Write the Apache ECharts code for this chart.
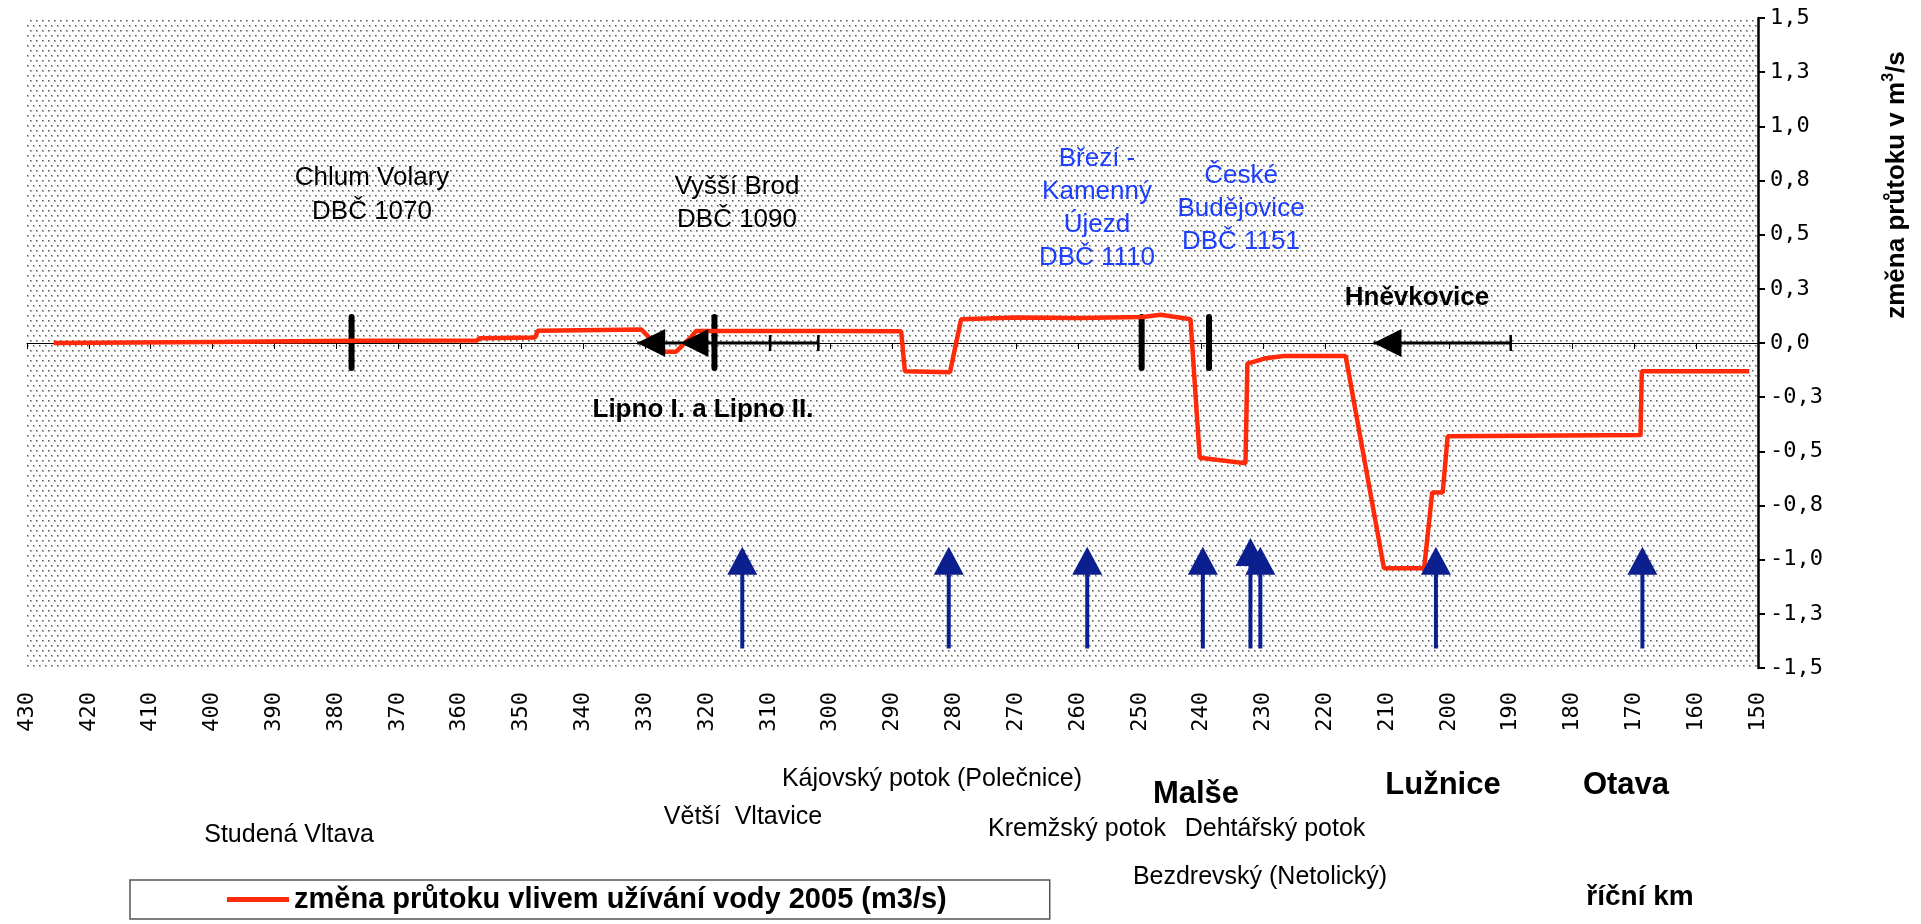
<!DOCTYPE html>
<html>
<head>
<meta charset="utf-8">
<script src="https://cdn.jsdelivr.net/npm/echarts@6/dist/echarts.min.js"></script>
<style>
  html, body { margin: 0; padding: 0; background: #fff; }
</style>
</head>
<body>
<div id="main" style="width: 1921px; height: 924px"></div>
<script>
// river km (x) and flow change in m3/s (y)
const redKm = [425.7, 400, 377.5, 357.2, 356.8, 347.8, 347.4, 337, 330.6, 329.2, 327.5, 325, 322.5, 321.8, 300, 288.6, 288.0, 280.7, 278.9, 270, 260, 249.5, 246.6, 241.8, 240.3, 232.9, 232.6, 230.8, 229.6, 226.7, 216.7, 210.5, 204.0, 202.7, 201.0, 200.2, 169.0, 168.8, 151.4]
const redValue = [0.0, 0.005, 0.01, 0.012, 0.022, 0.025, 0.057, 0.06, 0.062, 0.02, -0.04, -0.04, 0.03, 0.055, 0.055, 0.054, -0.13, -0.135, 0.11, 0.118, 0.115, 0.12, 0.13, 0.11, -0.53, -0.555, -0.095, -0.08, -0.07, -0.06, -0.06, -1.04, -1.04, -0.69, -0.69, -0.43, -0.425, -0.13, -0.13]

// tributary inflows (blue arrows)
const tributaryKm = [314.3, 280.9, 258.5, 239.8, 232.1, 230.5, 202.1, 168.7]
const tributaryTip = [-0.94, -0.94, -0.94, -0.94, -0.9, -0.94, -0.94, -0.94]
const tributaryFoot = -1.41

// gauging stations (black bars)
const gaugeKm = [377.5, 318.8, 249.7, 238.8]
const gaugeSpan = [0.12, -0.115]

// reservoirs (black arrows on the zero line)
const damTipKm = [331.3, 324.3, 212.2]
const damLines = [[331.3, 302.0], [212.2, 190.0]]
const damTickKm = [309.8, 302.0, 190.0]

const xMin = 150
const xMax = 430
const yMin = -1.5
const yMax = 1.5

const mono = '"DejaVu Sans Mono", monospace'
const sans = '"Liberation Sans", Arial, sans-serif'
const navy = '#0b1f8e'
const blue = '#1f3fff'
const red = '#ff2a0a'

// dotted background
const makePattern = () => {
  const c = document.createElement('canvas')
  c.width = 6
  c.height = 10
  const ctx = c.getContext('2d')
  ctx.fillStyle = '#fff'
  ctx.fillRect(0, 0, 6, 10)
  ctx.fillStyle = '#b4b4b4'
  ctx.fillRect(0, 0, 2, 2)
  ctx.fillRect(3, 5, 2, 2)
  ctx.fillStyle = '#555'
  ctx.fillRect(0, 0, 1, 1)
  ctx.fillRect(3, 5, 1, 1)
  return c
}

const fmtY = (v) => v.toFixed(1).replace('.', ',')

const txt = (text, x, y, opts) => {
  opts = opts || {}
  return {
    type: 'text',
    x: x,
    y: y,
    rotation: opts.rotation || 0,
    z: 50,
    style: {
      text: text,
      fontSize: opts.size || 25,
      fontWeight: opts.bold ? 'bold' : 'normal',
      fontFamily: sans,
      fill: opts.color || '#000',
      align: 'center',
      verticalAlign: 'middle',
      lineHeight: opts.lh || 33,
      rich: opts.rich
    }
  }
}

var chart = echarts.init(document.getElementById('main'))
var option

option = {
  animation: false,
  backgroundColor: '#fff',
  grid: {
    left: 27,
    right: 163,
    top: 18,
    bottom: 256,
    show: true,
    borderWidth: 0,
    backgroundColor: { image: makePattern(), repeat: 'repeat' }
  },
  legend: {
    left: 130,
    top: 880,
    padding: [5, 103, 5, 97],
    borderColor: '#555',
    borderWidth: 1.5,
    backgroundColor: '#fff',
    itemWidth: 62,
    itemHeight: 5,
    textStyle: { fontFamily: sans, fontWeight: 'bold', fontSize: 29, color: '#000' },
    data: [{ name: 'změna průtoku vlivem užívání vody 2005 (m3/s)', icon: 'rect' }]
  },
  xAxis: [
    {
      type: 'value',
      min: xMin,
      max: xMax,
      interval: 10,
      inverse: true,
      position: 'bottom',
      axisLine: { show: false, onZero: false },
      axisTick: { show: false },
      splitLine: { show: false },
      axisLabel: {
        rotate: 90,
        margin: 24,
        fontFamily: mono,
        fontSize: 22,
        color: '#000'
      }
    },
    {
      type: 'value',
      min: xMin,
      max: xMax,
      interval: 10,
      inverse: true,
      position: 'top',
      axisLine: { show: true, onZero: true, lineStyle: { color: '#000', width: 1 } },
      axisTick: { show: true, inside: true, length: 6, lineStyle: { color: '#000', width: 1 } },
      axisLabel: { show: false },
      splitLine: { show: false }
    }
  ],
  yAxis: {
    type: 'value',
    position: 'right',
    min: yMin,
    max: yMax,
    interval: 0.25,
    axisLine: { show: true, onZero: false, lineStyle: { color: '#000', width: 2.5 } },
    axisTick: { show: true, length: 7, lineStyle: { color: '#000', width: 2 } },
    splitLine: { show: false },
    axisLabel: {
      margin: 12,
      fontFamily: mono,
      fontSize: 22,
      color: '#000',
      formatter: fmtY
    }
  },
  series: [
    {
      name: 'gauges',
      type: 'custom',
      xAxisIndex: 0,
      z: 3,
      data: gaugeKm.map((k) => [k, gaugeSpan[0], gaugeSpan[1]]),
      renderItem: (params, api) => {
        const a = api.coord([api.value(0), api.value(1)])
        const b = api.coord([api.value(0), api.value(2)])
        return {
          type: 'line',
          shape: { x1: a[0], y1: a[1], x2: b[0], y2: b[1] },
          style: { stroke: '#000', lineWidth: 6, lineCap: 'round' }
        }
      }
    },
    {
      name: 'damLines',
      type: 'custom',
      xAxisIndex: 0,
      z: 3,
      data: damLines.map((d) => [d[0], d[1]]),
      renderItem: (params, api) => {
        const a = api.coord([api.value(0), 0])
        const b = api.coord([api.value(1), 0])
        return {
          type: 'line',
          shape: { x1: a[0], y1: a[1], x2: b[0], y2: b[1] },
          style: { stroke: '#000', lineWidth: 3 }
        }
      }
    },
    {
      name: 'damTicks',
      type: 'custom',
      xAxisIndex: 0,
      z: 3,
      data: damTickKm.map((k) => [k]),
      renderItem: (params, api) => {
        const a = api.coord([api.value(0), 0])
        return {
          type: 'line',
          shape: { x1: a[0], y1: a[1] - 8, x2: a[0], y2: a[1] + 8 },
          style: { stroke: '#000', lineWidth: 2.5 }
        }
      }
    },
    {
      name: 'damTips',
      type: 'custom',
      xAxisIndex: 0,
      z: 6,
      data: damTipKm.map((k) => [k]),
      renderItem: (params, api) => {
        const a = api.coord([api.value(0), 0])
        return {
          type: 'polygon',
          shape: { points: [[a[0], a[1]], [a[0] + 28, a[1] - 14], [a[0] + 28, a[1] + 14]] },
          style: { fill: '#000' }
        }
      }
    },
    {
      name: 'změna průtoku vlivem užívání vody 2005 (m3/s)',
      type: 'line',
      xAxisIndex: 0,
      z: 5,
      showSymbol: false,
      symbol: 'none',
      color: red,
      lineStyle: { color: red, width: 4.5 },
      data: redKm.map((k, i) => [k, redValue[i]])
    },
    {
      name: 'tributaries',
      type: 'custom',
      xAxisIndex: 0,
      z: 7,
      data: tributaryKm.map((k, i) => [k, tributaryTip[i], tributaryFoot]),
      renderItem: (params, api) => {
        const p = api.coord([api.value(0), api.value(1)])
        const b = api.coord([api.value(0), api.value(2)])
        const head = 28
        const w = 15
        return {
          type: 'group',
          children: [
            {
              type: 'line',
              shape: { x1: p[0], y1: p[1] + head - 2, x2: b[0], y2: b[1] },
              style: { stroke: navy, lineWidth: 4 }
            },
            {
              type: 'polygon',
              shape: { points: [[p[0], p[1]], [p[0] - w, p[1] + head], [p[0] + w, p[1] + head]] },
              style: { fill: navy }
            }
          ]
        }
      }
    }
  ],
  graphic: [
    txt('Chlum Volary\nDBČ 1070', 372, 195, { lh: 34, size: 26 }),
    txt('Vyšší Brod\nDBČ 1090', 737, 203, { lh: 33, size: 26 }),
    txt('Březí -\nKamenný\nÚjezd\nDBČ 1110', 1097, 208, { color: blue, size: 26 }),
    txt('České\nBudějovice\nDBČ 1151', 1241, 209, { color: blue, size: 26 }),
    txt('Hněvkovice', 1417, 298, { bold: true, size: 26 }),
    txt('Lipno I. a Lipno II.', 703, 410, { bold: true, size: 26 }),
    txt('Kájovský potok (Polečnice)', 932, 779),
    txt('Malše', 1196, 794, { bold: true, size: 31 }),
    txt('Lužnice', 1443, 785, { bold: true, size: 31 }),
    txt('Otava', 1626, 785, { bold: true, size: 31 }),
    txt('Větší  Vltavice', 743, 817),
    txt('Studená Vltava', 289, 835),
    txt('Kremžský potok', 1077, 829),
    txt('Dehtářský potok', 1275, 829),
    txt('Bezdrevský (Netolický)', 1260, 877),
    txt('říční km', 1640, 897, { bold: true, size: 28 }),
    txt('změna průtoku v m{sup|3}/s', 1897, 185, {
      bold: true,
      size: 26,
      rotation: Math.PI / 2,
      rich: { sup: { fontSize: 16, fontWeight: 'bold', fontFamily: sans, verticalAlign: 'top', lineHeight: 33 } }
    })
  ]
}

option && chart.setOption(option)
</script>
</body>
</html>
